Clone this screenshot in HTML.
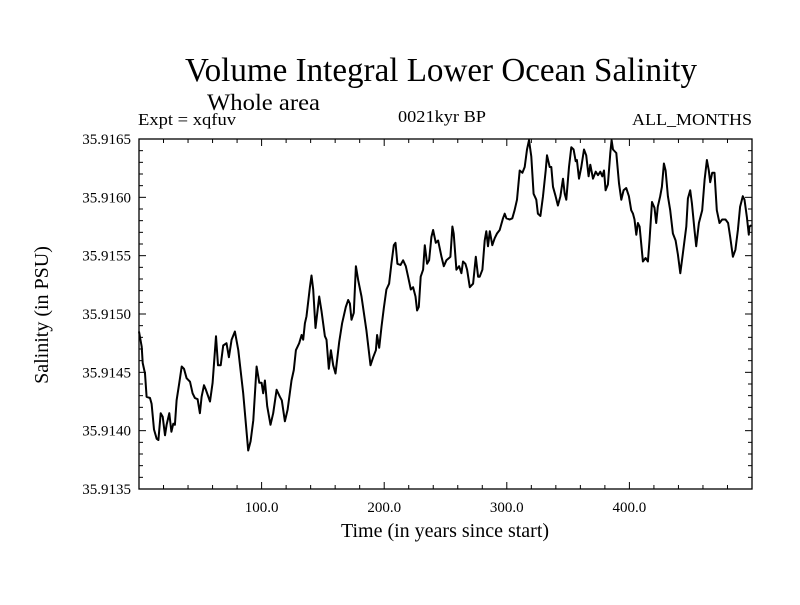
<!DOCTYPE html>
<html><head><meta charset="utf-8"><style>
html,body{margin:0;padding:0;background:#fff;}
svg text{font-family:"Liberation Serif",serif;fill:#000;}
</style></head><body>
<svg id="chart" width="800" height="600" viewBox="0 0 800 600" xmlns="http://www.w3.org/2000/svg">
<rect width="800" height="600" fill="#fff"/>
<text x="441" y="81" font-size="34" text-anchor="middle" textLength="512" lengthAdjust="spacingAndGlyphs">Volume Integral Lower Ocean Salinity</text>
<text x="207" y="110" font-size="23" textLength="113" lengthAdjust="spacingAndGlyphs">Whole area</text>
<text x="138" y="125" font-size="17" textLength="98" lengthAdjust="spacingAndGlyphs">Expt = xqfuv</text>
<text x="442" y="122" font-size="17" text-anchor="middle" textLength="88" lengthAdjust="spacingAndGlyphs">0021kyr BP</text>
<text x="752" y="125" font-size="17" text-anchor="end" textLength="120" lengthAdjust="spacingAndGlyphs">ALL_MONTHS</text>
<text transform="translate(48,315) rotate(-90)" font-size="20" text-anchor="middle">Salinity (in PSU)</text>
<text x="445" y="537" font-size="20" text-anchor="middle">Time (in years since start)</text>
<g id="axes"></g>
<g id="series"></g>
</svg>
<script>
const xTickValues=[100,200,300,400];
const xTickLabels=["100.0","200.0","300.0","400.0"];
const yTickValues=[35.9135,35.914,35.9145,35.915,35.9155,35.916,35.9165];
const yTickLabels=["35.9135","35.9140","35.9145","35.9150","35.9155","35.9160","35.9165"];
const years=[0,2.2,3.0,4.9,6.2,9.0,10.3,12.2,14.4,15.8,17.7,19.3,21.2,22.5,24.7,26.4,28.0,29.3,30.7,32.9,34.8,36.7,38.8,41.6,43.7,45.6,47.8,49.7,51.1,53.0,54.6,57.9,60.0,62.8,64.4,66.6,68.7,71.4,73.3,75.5,78.2,81.0,85.0,89.1,91.0,93.2,95.9,98.1,100.0,101.3,102.7,104.6,107.3,109.5,112.2,114.9,116.5,119.0,121.2,124.4,126.3,128.0,130.7,132.6,133.9,135.3,136.6,139.4,140.7,142.1,144.0,147.0,148.9,151.6,152.9,154.8,156.5,158.4,160.3,163.3,165.7,168.7,170.6,172.0,173.3,175.2,176.9,178.8,181.5,185.5,188.8,191.0,193.2,194.2,195.9,197.8,199.7,201.8,204.0,205.9,207.8,209.2,210.8,213.3,215.4,217.6,219.5,221.7,223.6,225.5,226.8,228.2,229.8,231.7,233.1,235.0,236.6,238.5,239.9,242.1,244.0,246.7,248.6,250.7,252.9,254.0,255.6,256.7,258.9,261.1,263.0,264.3,266.2,267.6,269.8,
272.5,274.7,276.6,277.9,280.1,282.0,283.3,284.7,286.1,288.2,290.1,292.0,294.2,296.9,298.3,299.7,302.4,304.5,306.4,308.3,310.5,312.7,314.6,316.5,318.1,320.0,321.9,324.1,325.4,327.4,329.5,331.7,332.8,335.0,336.3,337.7,339.8,341.7,343.7,345.8,347.2,348.5,350.7,352.6,354.5,356.2,357.2,358.9,360.8,363.0,364.8,366.7,368.1,370.3,372.5,374.4,376.3,377.9,379.3,380.6,382.5,384.4,385.5,386.6,389.3,391.5,393.4,395.3,397.4,399.6,401.5,402.9,404.2,405.6,406.9,408.3,411.0,413.2,415.1,416.4,418.4,420.5,421.9,423.2,425.1,426.5,428.1,429.5,431.4,433.3,435.5,437.7,439.6,441.5,443.6,446.4,447.7,449.6,451.0,453.1,454.5,456.7,459.4,461.3,463.2,464.8,465.9,467.5,469.4,471.3,473.5,475.7,478.4,480.5,482.2,484.4,486.5,488.5,490.3,492.5,493.9,495.8,497.4,497.9,499.6];
const salinity=[35.91485,35.91472,35.91458,35.91449,35.91429,35.91428,35.91423,35.91401,35.91393,35.91392,35.91415,35.91412,35.91396,35.91405,35.91415,35.91399,35.91406,35.91405,35.91426,35.91441,35.91455,35.91453,35.91445,35.91442,35.91432,35.91428,35.91427,35.91415,35.91429,35.91439,35.91435,35.91425,35.91441,35.91481,35.91456,35.91456,35.91473,35.91475,35.91463,35.91478,35.91485,35.91469,35.91432,35.91383,35.91391,35.91409,35.91455,35.91441,35.91441,35.91432,35.91443,35.91421,35.91405,35.91415,35.91435,35.91429,35.91426,35.91408,35.91418,35.91443,35.91452,35.91469,35.91475,35.91482,35.91478,35.91492,35.91498,35.91523,35.91533,35.91521,35.91488,35.91515,35.91502,35.91481,35.91478,35.91453,35.91469,35.91456,35.91449,35.91476,35.91492,35.91506,35.91512,35.91509,35.91495,35.91501,35.91541,35.91529,35.91515,35.91486,35.91456,35.91463,35.91469,35.91482,35.91471,35.91489,35.91505,35.91521,35.91526,35.91543,35.91559,35.91561,35.91543,35.91542,35.91546,35.91541,35.91532,35.91521,35.91523,35.91515,35.91503,35.91506,35.91532,35.91538,35.91559,35.91543,35.91546,35.91566,35.91572,35.91561,35.91563,35.91549,35.91541,35.91546,35.91548,35.91549,35.91575,35.91569,35.91538,35.91541,35.91535,35.91545,35.91543,35.91538,35.91523,
35.91526,35.91549,35.91532,35.91532,35.91538,35.91563,35.91571,35.91558,35.91571,35.91559,35.91565,35.91569,35.91572,35.91582,35.91586,35.91582,35.91581,35.91582,35.91589,35.91598,35.91623,35.91621,35.91626,35.91641,35.91649,35.91635,35.91603,35.91598,35.91586,35.91584,35.91601,35.91623,35.91636,35.91626,35.91626,35.91609,35.91601,35.91593,35.91601,35.91616,35.91603,35.91598,35.91626,35.91643,35.91641,35.91631,35.91632,35.91616,35.91626,35.91641,35.91636,35.91618,35.91628,35.91616,35.91622,35.91619,35.91622,35.91618,35.91623,35.91606,35.91611,35.91638,35.91649,35.91641,35.91638,35.91612,35.91598,35.91606,35.91608,35.91601,35.91589,35.91586,35.91581,35.91568,35.91578,35.91575,35.91545,35.91548,35.91545,35.91563,35.91596,35.91591,35.91578,35.91592,35.91601,35.91609,35.91629,35.91623,35.91601,35.91589,35.91569,35.91563,35.91551,35.91535,35.91552,35.91575,35.91599,35.91606,35.91595,35.91572,35.91558,35.91578,35.91589,35.91615,35.91632,35.91623,35.91613,35.91621,35.91621,35.91589,35.91578,35.91581,35.91581,35.91578,35.91566,35.91549,35.91555,35.91572,35.91592,35.91601,35.91598,35.91583,35.91568,35.91575,35.91576];

const NS='http://www.w3.org/2000/svg';
const L=139,R=752,T=139,B=489,X0=0,X1=500,Y0=35.9135,Y1=35.9165;
function sx(v){return L+(v-X0)/(X1-X0)*(R-L);}
function sy(v){return B-(v-Y0)/(Y1-Y0)*(B-T);}
function mk(tag,attrs,parent){const e=document.createElementNS(NS,tag);for(const k in attrs)e.setAttribute(k,attrs[k]);parent.appendChild(e);return e;}
const axes=document.getElementById('axes');
const frame=mk('rect',{x:L,y:T,width:R-L,height:B-T,fill:'none',stroke:'#000','stroke-width':1.3},axes);


for(let v=20;v<X1;v+=20){
  const major=v%100===0, len=major?7:4;
  const t1=mk('line',{x1:sx(v),x2:sx(v),y1:B,y2:B-len,stroke:'#000','stroke-width':1},axes);
  
  
  const t2=mk('line',{x1:sx(v),x2:sx(v),y1:T,y2:T+len,stroke:'#000','stroke-width':1},axes);
  
  
}
xTickValues.forEach((v,i)=>{
  const t=mk('text',{x:sx(v),y:B+23,'font-size':15,'text-anchor':'middle'},axes);
  t.textContent=xTickLabels[i];
  
  
});
for(let k=1;k<30;k++){
  const v=Y0+k*0.0001, major=k%5===0, len=major?7:4;
  const t1=mk('line',{x1:L,x2:L+len,y1:sy(v),y2:sy(v),stroke:'#000','stroke-width':1},axes);
  
  
  const t2=mk('line',{x1:R,x2:R-len,y1:sy(v),y2:sy(v),stroke:'#000','stroke-width':1},axes);
  
  
}
yTickValues.forEach((v,i)=>{
  const t=mk('text',{x:L-8,y:sy(v)+5,'font-size':15,'text-anchor':'end'},axes);
  t.textContent=yTickLabels[i];
  
  
});
const d=years.map((y,i)=>(i?'L':'M')+sx(y).toFixed(1)+' '+sy(salinity[i]).toFixed(1)).join(' ');
const line=mk('path',{d:d,fill:'none',stroke:'#000','stroke-width':2,'stroke-linejoin':'round'},document.getElementById('series'));


</script>
</body></html>
